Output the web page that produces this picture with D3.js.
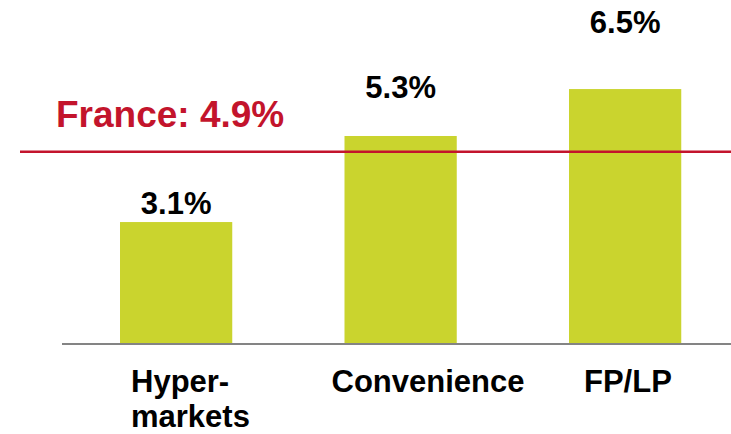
<!DOCTYPE html>
<html>
<head>
<meta charset="utf-8">
<script src="https://cdn.jsdelivr.net/npm/d3@7"></script>
<style>
  html, body { margin: 0; padding: 0; background: #fff; }
  svg { display: block; }
  text { font-family: "Liberation Sans", Arial, sans-serif; font-weight: bold; }
</style>
</head>
<body>
<svg id="chart" width="731" height="434"></svg>
<script>
// Channel growth rates (%)
const categories = ["Hypermarkets", "Convenience", "FP/LP"];
const categoryLines = [["Hyper-", "markets"], ["Convenience"], ["FP/LP"]];
const growth = [3.1, 5.3, 6.5];
const valueLabels = ["3.1%", "5.3%", "6.5%"];

// National reference
const referenceName = "France";
const referenceValue = 4.9;
const referenceLabel = "France: 4.9%";

// Layout and styling
const W = 731, H = 434;
const barColor = "#cad42e";
const refColor = "#c3142c";
const axisColor = "#848484";
const valueLift = [8, 38, 56];        // gap between bar top and value label baseline
const catShift = [11, -13, 15];       // category label start relative to band start

const svg = d3.select("#chart");

const x = d3.scaleBand()
  .domain(categories)
  .range([120, 681.25])
  .paddingInner(0.5)
  .paddingOuter(0);

const y = d3.scaleLinear()
  .domain([0, 7])
  .range([343.3, 69.5]);

const data = categories.map((c, i) => ({
  cat: c, value: growth[i], label: valueLabels[i], lines: categoryLines[i], i
}));

// Bars
svg.append("g")
  .selectAll("rect")
  .data(data)
  .join("rect")
  .attr("x", d => x(d.cat))
  .attr("width", x.bandwidth())
  .attr("y", d => y(d.value))
  .attr("height", d => y(0) - y(d.value))
  .attr("fill", barColor);

// Baseline
svg.append("line")
  .attr("x1", 62).attr("x2", W)
  .attr("y1", y(0) + 0.7).attr("y2", y(0) + 0.7)
  .attr("stroke", axisColor)
  .attr("stroke-width", 2);

// National average line
const yRef = y(referenceValue);
svg.append("line")
  .attr("x1", 20).attr("x2", W)
  .attr("y1", yRef).attr("y2", yRef)
  .attr("stroke", refColor)
  .attr("stroke-width", 2.5);

svg.append("text")
  .attr("x", 56)
  .attr("y", yRef - 25)
  .attr("fill", refColor)
  .attr("font-size", 37)
  .text(referenceLabel);

// Value labels
svg.append("g")
  .selectAll("text")
  .data(data)
  .join("text")
  .attr("x", d => x(d.cat) + x.bandwidth() / 2)
  .attr("y", d => y(d.value) - valueLift[d.i])
  .attr("text-anchor", "middle")
  .attr("font-size", 31)
  .attr("fill", "#000")
  .text(d => d.label);

// Category labels
const cats = svg.append("g")
  .selectAll("text")
  .data(data)
  .join("text")
  .attr("x", d => x(d.cat) + catShift[d.i])
  .attr("y", 391.7)
  .attr("font-size", 31)
  .attr("fill", "#000");

cats.selectAll("tspan")
  .data(d => d.lines.map(t => ({ t, x: x(d.cat) + catShift[d.i] })))
  .join("tspan")
  .attr("x", t => t.x)
  .attr("dy", (t, j) => j === 0 ? 0 : 35.5)
  .text(t => t.t);
</script>
</body>
</html>
